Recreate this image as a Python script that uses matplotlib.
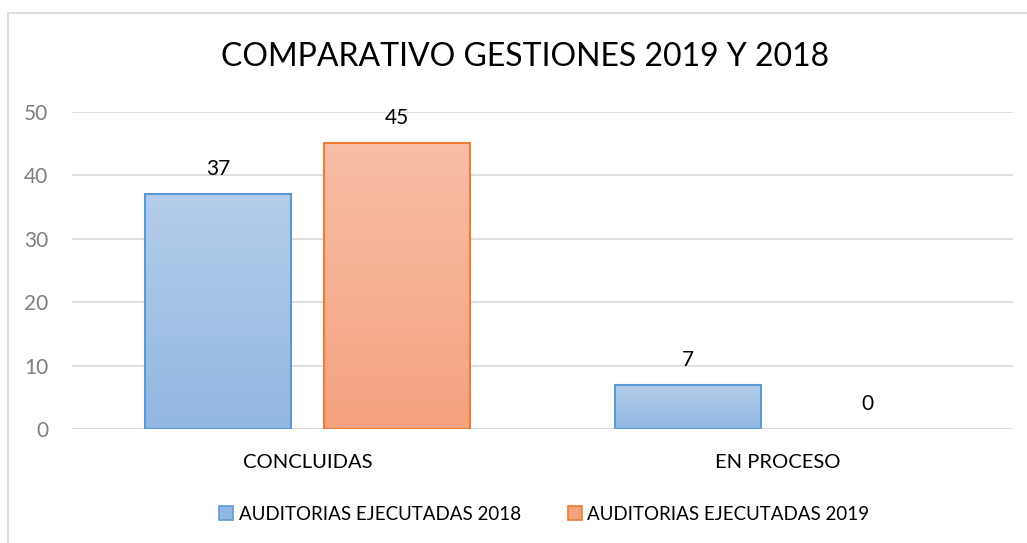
import matplotlib
matplotlib.use("Agg")
import matplotlib.pyplot as plt
import numpy as np
from matplotlib.patches import Rectangle, Patch
from matplotlib.colors import LinearSegmentedColormap

plt.rcParams['font.family'] = ['Lato', 'DejaVu Sans']

title = "COMPARATIVO GESTIONES 2019 Y 2018"
categories = ["CONCLUIDAS", "EN PROCESO"]
series_names = ["AUDITORIAS EJECUTADAS 2018", "AUDITORIAS EJECUTADAS 2019"]
values_2018 = [37, 7]
values_2019 = [45, 0]
y_ticks = [0, 10, 20, 30, 40, 50]

# gradient (top, bottom) and edge colour per series
fills = [("#b4cdea", "#92b7e2"), ("#f8bea6", "#f5a27f")]
edges = ["#5b9bd5", "#ed7d31"]

fig = plt.figure(figsize=(10.27, 5.43), dpi=100)
ax = fig.add_axes([0.0701, 0.2094, 0.9163, 0.5849])

# outer chart frame
fig.patches.append(Rectangle((8 / 1027, -0.1), 1.2, 1.1 - 13 / 543,
                             transform=fig.transFigure, fill=False,
                             edgecolor="#d9d9d9", linewidth=1.2))

x = np.arange(len(categories))
bar_w = 0.31
offset = 0.19

for i, vals in enumerate([values_2018, values_2019]):
    pos = x + (offset if i else -offset)
    bars = ax.bar(pos, vals, width=bar_w, color="none", edgecolor=edges[i],
                  linewidth=1.5, zorder=3)
    cmap = LinearSegmentedColormap.from_list("g%d" % i, [fills[i][1], fills[i][0]])
    for b, v in zip(bars, vals):
        if v > 0:
            grad = np.linspace(0, 1, 256).reshape(-1, 1)
            im = ax.imshow(grad, extent=(b.get_x(), b.get_x() + b.get_width(), 0, v),
                           origin="lower", aspect="auto", cmap=cmap, zorder=2)
            im.set_clip_path(b)
        else:
            b.set_linewidth(0)
        ax.annotate(str(v), (b.get_x() + b.get_width() / 2, v),
                    xytext=(0, 11), textcoords="offset points",
                    ha="center", va="bottom", fontsize=15, color="#000000")

ax.set_xlim(-0.5, 1.5)
ax.set_ylim(0, 50)
ax.set_yticks(y_ticks)
ax.set_xticks(x)
ax.set_xticklabels(categories, fontsize=14.5, color="#000000")
ax.tick_params(axis="y", labelsize=15, labelcolor="#7f7f7f", length=0, pad=17)
ax.tick_params(axis="x", length=0, pad=18)
ax.grid(axis="y", color="#d9d9d9", linewidth=1.2, zorder=0)
for s in ax.spines.values():
    s.set_visible(False)

fig.text(0.511, 1 - 57 / 543, title, ha="center", va="center",
         fontsize=23, color="#000000")

handles = [Patch(facecolor=fills[i][1], edgecolor=edges[i], linewidth=1.2)
           for i in range(2)]
fig.legend(handles, series_names, loc="center", ncol=2,
           bbox_to_anchor=(0.53, 1 - 514 / 543), frameon=False, fontsize=13.5,
           handlelength=0.75, handleheight=0.75, handletextpad=0.3,
           columnspacing=2.5)

fig.savefig("out.png", dpi=100, facecolor="white")
